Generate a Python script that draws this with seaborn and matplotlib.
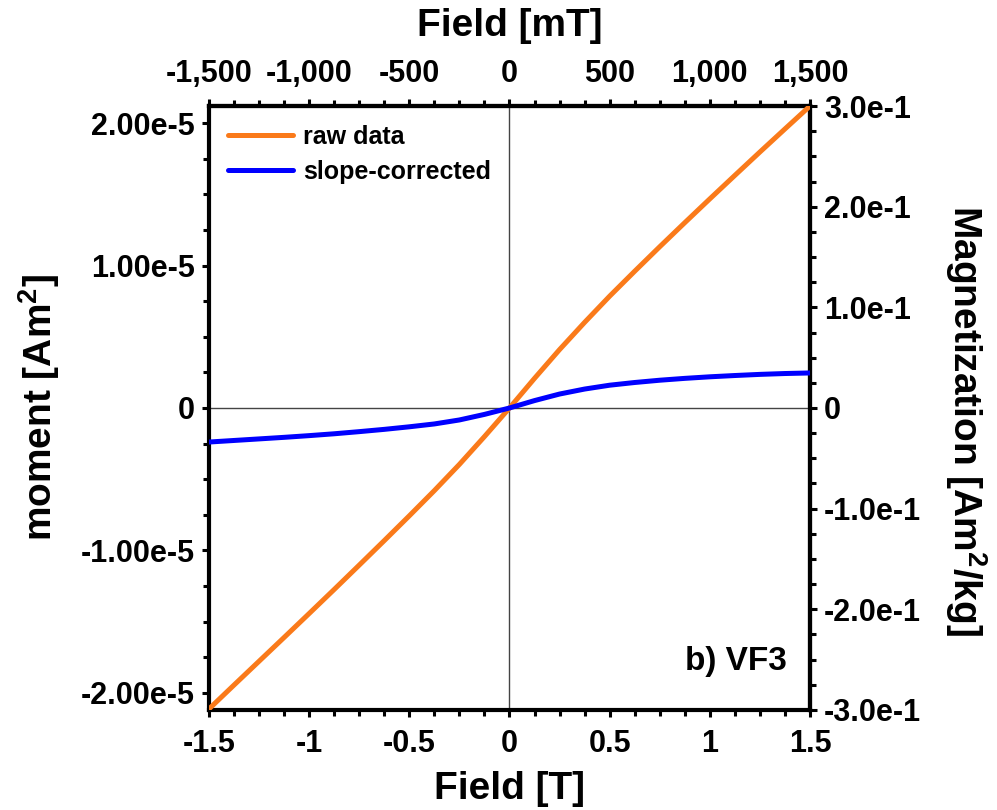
import numpy as np
import pandas as pd
import seaborn as sns
import matplotlib
matplotlib.use("Agg")
import matplotlib.pyplot as plt
from matplotlib.ticker import MultipleLocator, FuncFormatter, FixedLocator

# Field values (T)
field_T = [-1.5, -1.375, -1.25, -1.125, -1.0, -0.875, -0.75, -0.625, -0.5,
           -0.375, -0.25, -0.125, 0.0, 0.125, 0.25, 0.375, 0.5, 0.625,
           0.75, 0.875, 1.0, 1.125, 1.25, 1.375, 1.5]

# Measured moment (x1e-6 Am^2)
raw_moment = [-21.13, -19.45, -17.78, -16.11, -14.43, -12.74, -11.03, -9.31,
              -7.57, -5.80, -3.96, -2.01, 0.0, 2.08, 4.10, 6.01, 7.85, 9.60,
              11.32, 13.01, 14.68, 16.33, 17.97, 19.59, 21.20]

# Moment after removing the linear high-field slope (x1e-6 Am^2)
corrected_moment = [-2.39, -2.28, -2.17, -2.06, -1.94, -1.81, -1.66, -1.50,
                    -1.32, -1.12, -0.84, -0.45, 0.0, 0.52, 0.98, 1.33, 1.60,
                    1.79, 1.95, 2.08, 2.19, 2.28, 2.36, 2.42, 2.46]

series_names = ["raw data", "slope-corrected"]
series_colors = ["#FA7A1A", "#0000FF"]

left_ticks = [-2e-5, -1e-5, 0.0, 1e-5, 2e-5]
left_labels = ["-2.00e-5", "-1.00e-5", "0", "1.00e-5", "2.00e-5"]
right_ticks = [-0.3, -0.2, -0.1, 0.0, 0.1, 0.2, 0.3]
right_labels = ["-3.0e-1", "-2.0e-1", "-1.0e-1", "0", "1.0e-1", "2.0e-1", "3.0e-1"]
bottom_ticks = [-1.5, -1.0, -0.5, 0.0, 0.5, 1.0, 1.5]
bottom_labels = ["-1.5", "-1", "-0.5", "0", "0.5", "1", "1.5"]
top_ticks = [-1500, -1000, -500, 0, 500, 1000, 1500]
top_labels = ["-1,500", "-1,000", "-500", "0", "500", "1,000", "1,500"]

moment_max = 2.12e-5
magnet_max = 0.3

sns.set_style("ticks")
plt.rcParams["font.family"] = ["Liberation Sans", "DejaVu Sans"]
plt.rcParams["font.weight"] = "bold"
plt.rcParams["text.color"] = "black"
plt.rcParams["axes.labelcolor"] = "black"
plt.rcParams["xtick.color"] = "black"
plt.rcParams["ytick.color"] = "black"
plt.rcParams["mathtext.fontset"] = "custom"
plt.rcParams["mathtext.rm"] = "Liberation Sans:bold"
plt.rcParams["mathtext.default"] = "rm"

df = pd.DataFrame({
    "field": field_T * 2,
    "moment": [v * 1e-6 for v in raw_moment] + [v * 1e-6 for v in corrected_moment],
    "series": [series_names[0]] * len(field_T) + [series_names[1]] * len(field_T),
})

fig = plt.figure(figsize=(9.97, 8.10), dpi=100)
ax = fig.add_axes([0.2096, 0.1235, 0.6028, 0.7456])

ax.axhline(0, color="#444444", lw=1.0, zorder=1)
ax.axvline(0, color="#444444", lw=1.0, zorder=1)

sns.lineplot(data=df, x="field", y="moment", hue="series",
             palette=dict(zip(series_names, series_colors)),
             linewidth=3.6, ax=ax, zorder=3, legend=True)

ax.set_xlim(-1.5, 1.5)
ax.set_ylim(-moment_max, moment_max)

for s in ax.spines.values():
    s.set_visible(True)
    s.set_linewidth(3)
    s.set_color("black")

LBL = 22
tick_kw = dict(direction="out", width=2.2, colors="black")
ax.xaxis.set_major_locator(FixedLocator(bottom_ticks))
ax.set_xticklabels(bottom_labels)
ax.xaxis.set_minor_locator(MultipleLocator(0.125))
ax.yaxis.set_major_locator(FixedLocator(left_ticks))
ax.set_yticklabels(left_labels)
ax.yaxis.set_minor_locator(MultipleLocator(2.5e-6))
ax.tick_params(axis="both", which="major", length=5, labelsize=LBL, pad=5, **tick_kw)
ax.tick_params(axis="both", which="minor", length=4, **tick_kw)
ax.tick_params(axis="x", which="major", pad=9)
for t in ax.get_xticklabels() + ax.get_yticklabels():
    t.set_fontweight("bold")

ax.set_xlabel("Field [T]", fontsize=28, fontweight="bold", va="center")
ax.xaxis.set_label_coords(0.5, -0.131)
ax.set_ylabel("moment [Am$^2$]", fontsize=28, fontweight="bold", va="center")
ax.yaxis.set_label_coords(-0.283, 0.5)

# Field in mT on top
k = 1000.0
top = ax.secondary_xaxis("top", functions=(lambda x: x * k, lambda x: x / k))
top.xaxis.set_major_locator(FixedLocator(top_ticks))
top.xaxis.set_major_formatter(FuncFormatter(
    lambda v, p: top_labels[int(np.argmin([abs(v - t) for t in top_ticks]))]))
top.xaxis.set_minor_locator(MultipleLocator(125))
top.tick_params(which="major", length=5, labelsize=LBL, pad=7, **tick_kw)
top.tick_params(which="minor", length=4, **tick_kw)
top.spines["top"].set_linewidth(3)
top.set_xlabel("Field [mT]", fontsize=28, fontweight="bold", va="center")
top.xaxis.set_label_coords(0.5, 1.133, transform=ax.transAxes)
for t in top.get_xticklabels():
    t.set_fontweight("bold")

# Mass magnetization on the right
m = magnet_max / moment_max
right = ax.secondary_yaxis("right", functions=(lambda y: y * m, lambda y: y / m))
right.yaxis.set_major_locator(FixedLocator(right_ticks))
right.yaxis.set_major_formatter(FuncFormatter(
    lambda v, p: right_labels[int(np.argmin([abs(v - r) for r in right_ticks]))]))
right.yaxis.set_minor_locator(MultipleLocator(0.025))
right.tick_params(which="major", length=5, labelsize=LBL, pad=5, **tick_kw)
right.tick_params(which="minor", length=4, **tick_kw)
right.spines["right"].set_linewidth(3)
right.set_ylabel("Magnetization [Am$^2$/kg]", fontsize=28, fontweight="bold",
                 rotation=270, va="center", ha="center")
right.yaxis.set_label_coords(1.26, 0.48, transform=ax.transAxes)
for t in right.get_yticklabels():
    t.set_fontweight("bold")

leg = ax.legend(loc="upper left", frameon=False, handlelength=2.6,
                handletextpad=0.4, labelspacing=0.45, borderaxespad=0.35,
                prop={"weight": "bold", "size": 18})
for line in leg.get_lines():
    line.set_linewidth(3.6)

ax.text(0.962, 0.080, "b) VF3", transform=ax.transAxes, ha="right", va="center",
        fontsize=24, fontweight="bold")

fig.savefig("out.png", dpi=100)
